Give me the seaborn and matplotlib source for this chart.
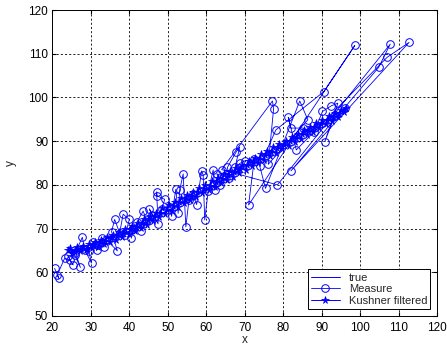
import matplotlib
matplotlib.use('Agg')
import matplotlib.pyplot as plt
import seaborn as sns
import pandas as pd

# true track
true_x = [24.0, 40.0, 55.0, 70.0, 85.0, 96.0]
true_y = [64.6, 69.4, 76.3, 84.2, 91.7, 97.2]

# measurements (x, y) in time order
meas_pts = [
    (20.6, 60.9), (21.7, 58.6), (21.3, 59.4), (23.2, 63.2), (24.5, 62.8), (25.4, 61.7),
    (24.0, 63.8), (25.8, 64.0), (27.3, 61.1), (26.0, 64.5), (27.8, 68.0), (28.5, 65.0),
    (30.2, 62.1), (29.5, 64.8), (30.6, 67.0), (31.5, 65.0), (32.0, 66.2), (33.5, 65.8),
    (32.8, 67.8), (34.0, 67.5), (36.9, 64.9), (35.4, 69.3), (36.2, 72.1), (37.5, 69.0),
    (38.4, 73.3), (40.0, 72.1), (39.0, 68.5), (41.0, 70.0), (40.5, 67.8), (42.0, 71.5),
    (43.6, 74.0), (44.5, 72.0), (43.0, 69.5), (46.0, 73.0), (45.2, 74.5), (47.5, 71.1),
    (47.1, 78.4), (47.2, 77.5), (49.2, 76.7), (48.5, 74.5), (50.5, 75.0), (51.0, 72.8),
    (52.1, 79.0), (52.7, 73.5), (53.1, 78.8), (54.0, 82.5), (54.7, 70.4), (55.5, 76.5),
    (56.5, 78.0), (57.5, 75.5), (58.8, 83.2), (59.2, 82.3), (59.6, 72.0), (60.5, 78.5),
    (61.8, 83.4), (62.2, 78.8), (63.5, 80.0), (62.8, 82.5), (64.5, 82.0), (66.0, 81.5),
    (65.5, 84.0), (67.8, 87.6), (68.7, 88.7), (67.5, 84.0), (68.7, 84.9), (70.0, 85.5),
    (72.5, 86.0), (71.0, 75.4), (98.6, 111.9), (90.5, 101.3), (78.1, 92.6), (73.9, 84.3),
    (75.4, 79.2), (84.3, 99.2), (86.4, 94.9), (76.1, 84.7), (77.5, 97.4), (77.2, 99.2),
    (64.0, 83.5), (78.5, 80.0), (107.8, 112.2), (104.8, 106.9), (82.0, 83.2), (112.7, 112.6),
    (107.0, 109.2), (83.4, 88.0), (81.3, 95.5), (82.0, 93.0), (85.1, 93.0), (88.0, 92.0),
    (90.2, 96.8), (92.5, 98.1), (94.2, 98.7), (90.8, 89.9), (93.5, 96.0), (96.0, 97.5),
]

# Kushner filter output (x, y)
filt_pts = [
    (24.0, 65.1), (25.1, 64.3), (24.6, 65.6), (25.9, 64.7), (26.4, 65.9), (25.8, 65.0),
    (27.3, 64.8), (27.9, 66.1), (27.4, 65.3), (28.8, 65.0), (29.5, 66.5), (29.0, 65.4),
    (30.4, 65.6), (31.1, 67.0), (30.6, 66.2), (31.9, 65.9), (32.6, 67.4), (32.1, 66.6),
    (33.5, 66.5), (34.2, 68.0), (33.7, 67.1), (35.0, 67.0), (35.8, 68.6), (35.2, 67.8),
    (36.6, 67.4), (37.4, 69.2), (36.9, 68.3), (38.2, 68.1), (39.0, 70.0), (38.5, 69.0),
    (39.8, 68.7), (40.6, 70.7), (40.1, 69.8), (41.4, 69.4), (42.2, 71.3), (41.7, 70.4),
    (43.0, 70.1), (43.8, 72.1), (43.3, 71.2), (44.6, 70.8), (45.4, 72.8), (44.9, 71.9),
    (46.2, 71.8), (47.0, 73.6), (46.5, 72.7), (47.8, 72.6), (48.6, 74.6), (48.1, 73.6),
    (49.4, 73.4), (50.2, 75.3), (49.7, 74.3), (51.0, 74.1), (51.8, 76.1), (51.3, 75.2),
    (52.6, 74.9), (53.4, 77.0), (52.9, 76.0), (54.2, 75.8), (55.0, 77.6), (54.5, 76.7),
    (55.8, 76.5), (56.6, 78.4), (56.1, 77.5), (57.4, 77.3), (58.2, 79.3), (57.7, 78.3),
    (59.0, 78.2), (59.8, 80.0), (59.3, 79.1), (60.6, 78.8), (61.4, 80.8), (60.9, 79.8),
    (62.2, 79.6), (63.0, 81.5), (62.5, 80.6), (63.8, 80.4), (64.6, 82.4), (64.1, 81.4),
    (65.4, 81.2), (66.2, 83.1), (65.7, 82.2), (67.0, 81.9), (67.8, 83.9), (67.3, 82.9),
    (68.6, 82.7), (69.4, 84.6), (68.9, 83.7), (70.2, 83.5), (71.0, 85.5), (70.5, 84.5),
    (71.8, 84.3), (72.6, 86.2), (72.1, 85.2), (73.4, 85.0), (74.2, 87.0), (73.7, 86.0),
    (75.0, 85.8), (75.8, 87.8), (75.3, 86.8), (76.6, 86.6), (77.4, 88.6), (76.9, 87.6),
    (78.2, 87.4), (79.0, 89.3), (78.5, 88.4), (79.8, 88.2), (80.6, 90.1), (80.1, 89.2),
    (81.4, 89.0), (82.2, 90.9), (81.7, 90.0), (83.0, 89.8), (83.8, 91.7), (83.3, 90.8),
    (84.6, 90.6), (85.4, 92.5), (84.9, 91.6), (86.2, 91.4), (87.0, 93.3), (86.5, 92.4),
    (87.8, 92.2), (88.6, 94.1), (88.1, 93.2), (89.4, 93.0), (90.2, 94.9), (89.7, 94.0),
    (91.0, 93.9), (91.8, 95.7), (91.3, 94.8), (92.6, 94.7), (93.4, 96.4), (92.9, 95.6),
    (94.2, 95.5), (95.0, 97.2), (94.5, 96.3), (95.8, 96.6), (96.4, 97.6),
]

x_ticks = [20, 30, 40, 50, 60, 70, 80, 90, 100, 110, 120]
y_ticks = [50, 60, 70, 80, 90, 100, 110, 120]

sns.set_style('white')
plt.rcParams['font.family'] = ['Liberation Sans', 'DejaVu Sans']

fig = plt.figure(figsize=(4.47, 3.48), dpi=100)
ax = fig.add_axes([0.117, 0.092, 0.861, 0.879])

blue = '#0000ff'
df_true = pd.DataFrame({'x': true_x, 'y': true_y})
df_meas = pd.DataFrame(meas_pts, columns=['x', 'y'])
df_filt = pd.DataFrame(filt_pts, columns=['x', 'y'])

sns.lineplot(data=df_true, x='x', y='y', sort=False, estimator=None, ax=ax,
             color=blue, lw=0.7, label='true')
sns.lineplot(data=df_meas, x='x', y='y', sort=False, estimator=None, ax=ax,
             color=blue, lw=0.6, marker='o', markersize=5.5, markerfacecolor='none',
             markeredgecolor=blue, markeredgewidth=0.7, label='Measure')
sns.lineplot(data=df_filt, x='x', y='y', sort=False, estimator=None, ax=ax,
             color=blue, lw=0.7, marker='*', markersize=5.5, markeredgecolor=blue,
             markeredgewidth=0.5, label='Kushner filtered')

ax.set_xlim(20, 120)
ax.set_ylim(50, 120)
ax.set_xticks(x_ticks)
ax.set_yticks(y_ticks)
ax.grid(True, color='black', linestyle=(0, (2.5, 2.5)), linewidth=0.6)
ax.tick_params(direction='in', length=3, labelsize=8.5, colors='black',
               top=True, right=True, bottom=True, left=True)
ax.tick_params(axis='x', pad=4)
ax.tick_params(axis='y', pad=3)
for s in ax.spines.values():
    s.set_color('black')
    s.set_linewidth(0.7)
ax.set_xlabel('x', fontsize=8.5, labelpad=0)
ax.set_ylabel('y', fontsize=8.5, labelpad=8)

leg = ax.legend(loc='lower right', fontsize=8, frameon=True, fancybox=False,
                framealpha=1, edgecolor='black', borderaxespad=0.6,
                handlelength=2.6, borderpad=0.3, labelspacing=0.15)
leg.get_frame().set_linewidth(0.7)

fig.savefig('out.png', dpi=100)
